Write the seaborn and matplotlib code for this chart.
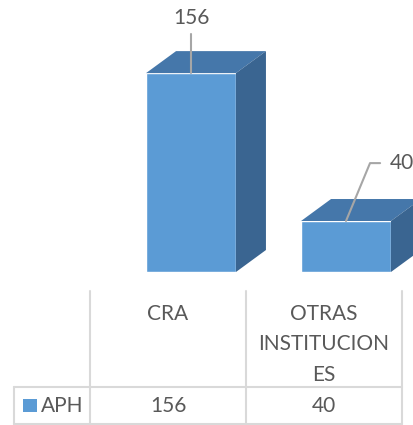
import matplotlib
matplotlib.use('Agg')
import matplotlib.pyplot as plt
from matplotlib.patches import Polygon, Rectangle
import seaborn as sns

categories = ['CRA', 'OTRAS\nINSTITUCION\nES']
values = [156, 40]
series_name = 'APH'

front = '#5B9BD5'
top = '#4577AA'
side = '#3A6591'
grey_txt = '#595959'
grid_col = '#D9D9D9'

sns.set_theme(style='white')
plt.rcParams['font.family'] = ['Lato', 'DejaVu Sans']

W, H = 413, 425
fig = plt.figure(figsize=(W / 100, H / 100), dpi=100)

# bar axes: category spacing 155px, baseline at y=272px, 1.276 px per unit
ax = fig.add_axes([113.5 / W, 153 / H, 310 / W, 255 / H])
sns.barplot(x=list(range(len(values))), y=values, color=front, width=0.58,
            saturation=1, ax=ax, native_scale=True)
ax.set_xlim(-0.5, 1.5)
ax.set_ylim(0, 200)
ax.axis('off')

dx, dy = 30 / 155, 22 / 1.276
for p in ax.patches[:len(values)]:
    x0, x1, h = p.get_x(), p.get_x() + p.get_width(), p.get_height()
    ax.add_patch(Polygon([(x0, h), (x1, h), (x1 + dx, h + dy), (x0 + dx, h + dy)],
                         closed=True, fc=top, ec='none', clip_on=False))
    ax.add_patch(Polygon([(x1, 0), (x1, h), (x1 + dx, h + dy), (x1 + dx, dy)],
                         closed=True, fc=side, ec='none', clip_on=False))

# data labels with leader lines
ax.plot([0, 0], [values[0], 187], color='#A6A6A6', lw=1.5, clip_on=False)
ax.text(0.005, 199, str(values[0]), ha='center', va='center', fontsize=15,
        color=grey_txt, clip_on=False)
ax.plot([1, 1.155, 1.22], [values[1], 85.4, 85.4], color='#A6A6A6', lw=1.5,
        clip_on=False)
ax.text(1.284, 85.4, str(values[1]), ha='left', va='center', fontsize=15,
        color=grey_txt, clip_on=False)

# data table in pixel coordinates
tb = fig.add_axes([0, 0, 1, 1])
tb.set_xlim(0, W)
tb.set_ylim(H, 0)
tb.axis('off')
tb.patch.set_alpha(0)
lw = 1.5
for xv in [90, 245.5, 401.5]:
    tb.plot([xv, xv], [291, 424], color=grid_col, lw=lw)
tb.plot([14, 14], [387, 424], color=grid_col, lw=lw)
for yv in [387, 424]:
    tb.plot([14, 401.5], [yv, yv], color=grid_col, lw=lw)

col_x = [168, 323.5]
for cx, cat, v in zip(col_x, categories, values):
    tb.text(cx, 303.5, cat, ha='center', va='top', fontsize=15, color=grey_txt,
            linespacing=1.68)
    tb.text(cx, 406, str(v), ha='center', va='center', fontsize=15, color=grey_txt)
tb.add_patch(Rectangle((23, 399), 14, 13, fc=front, ec='none'))
tb.text(41, 406, series_name, ha='left', va='center', fontsize=15, color=grey_txt)

fig.savefig('out.png', dpi=100)
